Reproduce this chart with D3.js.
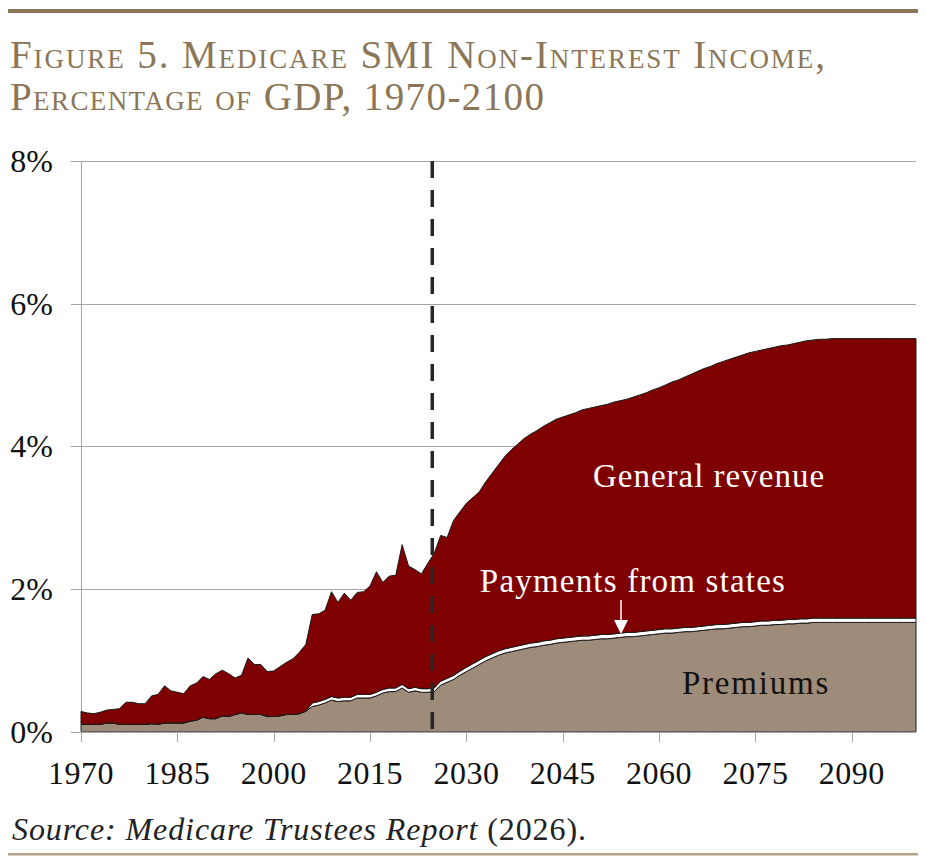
<!DOCTYPE html>
<html>
<head>
<meta charset="utf-8">
<script src="https://cdn.jsdelivr.net/npm/d3@7"></script>
<style>
  html, body { margin: 0; padding: 0; background: #fff; }
  svg { display: block; }
</style>
</head>
<body>
<svg id="chart" width="927" height="865"></svg>
<script>
// ---------------- DATA ----------------
const years = d3.range(1970, 2101);

// Premiums, % of GDP (1970-2100)
const premiums = [
  0.10,0.10,0.10,0.10,0.12,0.12,0.10,0.10,0.10,0.10, // 1970-1979
  0.10,0.11,0.10,0.12,0.12,0.12,0.12,0.145,0.16,0.20, // 1980-1989
  0.18,0.18,0.22,0.21,0.24,0.26,0.24,0.24,0.24,0.21, // 1990-1999
  0.21,0.22,0.24,0.24,0.25,0.285,0.35,0.37,0.40,0.44, // 2000-2009
  0.42,0.43,0.43,0.47,0.47,0.47,0.50,0.54,0.56,0.56, // 2010-2019
  0.61,0.55,0.57,0.55,0.55,0.56,0.65,0.69,0.73,0.79, // 2020-2029
  0.84,0.89,0.94,0.99,1.03,1.07,1.10,1.12,1.14,1.16, // 2030-2039
  1.18,1.19,1.21,1.22,1.24,1.25,1.26,1.27,1.28,1.28, // 2040-2049
  1.29,1.30,1.30,1.31,1.32,1.33,1.33,1.34,1.35,1.36, // 2050-2059
  1.37,1.38,1.38,1.39,1.40,1.40,1.41,1.42,1.43,1.44, // 2060-2069
  1.44,1.45,1.46,1.47,1.47,1.48,1.49,1.49,1.50,1.50, // 2070-2079
  1.51,1.51,1.52,1.52,1.53,1.53,1.53,1.53,1.53,1.53, // 2080-2089
  1.53,1.53,1.53,1.53,1.53,1.53,1.53,1.53,1.53,1.53, // 2090-2099
  1.53                                               // 2100
];

// Payments from states, % of GDP
const statePayments = [
  0,0,0,0,0,0,0,0,0,0,
  0,0,0,0,0,0,0,0,0,0,
  0,0,0,0,0,0,0,0,0,0,
  0,0,0,0,0,0,0.05,0.05,0.05,0.05,
  0.05,0.05,0.05,0.05,0.05,0.05,0.05,0.05,0.05,0.05,
  0.05,0.05,0.05,0.05,0.05,0.05,0.055,0.055,0.055,0.055,
  0.06,0.06,0.06,0.06,0.06,0.06,0.06,0.06,0.06,0.06,
  0.06,0.06,0.06,0.06,0.06,0.06,0.06,0.06,0.06,0.06,
  0.06,0.06,0.06,0.06,0.06,0.06,0.06,0.06,0.06,0.06,
  0.06,0.06,0.06,0.06,0.06,0.06,0.06,0.06,0.06,0.06,
  0.06,0.06,0.06,0.06,0.06,0.06,0.06,0.06,0.06,0.06,
  0.06,0.06,0.06,0.06,0.06,0.06,0.06,0.06,0.06,0.06,
  0.06,0.06,0.06,0.06,0.06,0.06,0.06,0.06,0.06,0.06,
  0.06
];

// Total non-interest income, % of GDP (top of the stack)
const totalIncome = [
  0.28,0.26,0.25,0.27,0.30,0.31,0.32,0.41,0.41,0.39, // 1970-1979
  0.39,0.50,0.52,0.64,0.57,0.55,0.53,0.64,0.68,0.77, // 1980-1989
  0.73,0.81,0.86,0.81,0.75,0.79,1.03,0.94,0.94,0.84, // 1990-1999
  0.85,0.91,0.97,1.02,1.11,1.22,1.64,1.65,1.70,1.96, // 2000-2009
  1.81,1.94,1.84,1.95,1.96,2.04,2.24,2.09,2.18,2.19, // 2010-2019
  2.62,2.32,2.27,2.21,2.36,2.50,2.75,2.72,2.96,3.08, // 2020-2029
  3.20,3.28,3.36,3.50,3.62,3.74,3.86,3.95,4.03,4.11, // 2030-2039
  4.17,4.22,4.28,4.33,4.38,4.41,4.44,4.47,4.51,4.53, // 2040-2049
  4.55,4.57,4.59,4.62,4.64,4.66,4.69,4.72,4.75,4.79, // 2050-2059
  4.82,4.86,4.90,4.93,4.97,5.01,5.05,5.09,5.12,5.16, // 2060-2069
  5.19,5.22,5.25,5.28,5.31,5.33,5.35,5.37,5.39,5.41, // 2070-2079
  5.42,5.44,5.46,5.48,5.49,5.50,5.50,5.51,5.51,5.51, // 2080-2089
  5.51,5.51,5.51,5.51,5.51,5.51,5.51,5.51,5.51,5.51, // 2090-2099
  5.51                                               // 2100
];

// General revenue = remainder of the stack
const generalRevenue = totalIncome.map((t, i) => +(t - premiums[i] - statePayments[i]).toFixed(3));

const seriesNames = ["Premiums", "Payments from states", "General revenue"];
const seriesColors = ["#9e8b7a", "#ffffff", "#7f0000"];
const xTickYears = [1970, 1985, 2000, 2015, 2030, 2045, 2060, 2075, 2090];
const yTickValues = [0, 2, 4, 6, 8];
const projectionYear = 2025;

// ---------------- CHART ----------------
const svg = d3.select("#chart");
const brown = "#8c7657";
const serif = "'Liberation Serif', 'Times New Roman', serif";

const x = d3.scaleLinear().domain([1970, 2100]).range([81, 916]);
const y = d3.scaleLinear().domain([0, 8]).range([731.5, 161]);

// top rule and bottom rule
svg.append("rect").attr("x", 8).attr("y", 9).attr("width", 910).attr("height", 4).attr("fill", brown);
svg.append("rect").attr("x", 8).attr("y", 853).attr("width", 910).attr("height", 2.5).attr("fill", "#b3a488");

// title
const title = svg.append("text")
  .attr("font-family", serif)
  .attr("font-size", 39)
  .attr("fill", brown)
  .style("font-variant", "small-caps")
  .style("letter-spacing", "1.9px");
title.append("tspan").attr("x", 10).attr("y", 68).text("Figure 5. Medicare SMI Non-Interest Income,");
title.append("tspan").attr("x", 10).attr("y", 110).style("letter-spacing", "1.4px").text("Percentage of GDP, 1970-2100");

// gridlines
const grid = svg.append("g");
yTickValues.forEach(v => {
  grid.append("line")
    .attr("x1", 71).attr("x2", 916)
    .attr("y1", Math.round(y(v)) + 0.5).attr("y2", Math.round(y(v)) + 0.5)
    .attr("stroke", "#a6a6a6").attr("stroke-width", 1);
});
grid.append("line").attr("x1", 81.5).attr("x2", 81.5).attr("y1", y(8)).attr("y2", 741)
  .attr("stroke", "#a6a6a6");

// stacked areas
const rows = years.map((yr, i) => ({
  year: yr,
  "Premiums": premiums[i],
  "Payments from states": statePayments[i],
  "General revenue": generalRevenue[i]
}));
const layers = d3.stack().keys(seriesNames)(rows);
const area = d3.area()
  .x(d => x(d.data.year))
  .y0(d => y(d[0]))
  .y1(d => y(d[1]));

svg.append("g").selectAll("path")
  .data(layers)
  .join("path")
  .attr("d", area)
  .attr("fill", (d, i) => seriesColors[i])
  .attr("stroke", "#1a1a1a")
  .attr("stroke-width", 1)
  .attr("stroke-linejoin", "round");

// x axis
const xAxisG = svg.append("g");
xAxisG.append("line").attr("x1", 81).attr("x2", 916).attr("y1", 732).attr("y2", 732).attr("stroke", "#a6a6a6");
xTickYears.forEach(yr => {
  xAxisG.append("line").attr("x1", Math.round(x(yr)) + 0.5).attr("x2", Math.round(x(yr)) + 0.5)
    .attr("y1", 732).attr("y2", 742).attr("stroke", "#a6a6a6");
  xAxisG.append("text")
    .attr("x", x(yr)).attr("y", 784)
    .attr("text-anchor", "middle")
    .attr("font-family", serif)
    .attr("font-size", 32).attr("fill", "#111")
    .style("letter-spacing", "0.5px")
    .text(yr);
});

// y labels
yTickValues.forEach(v => {
  svg.append("text")
    .attr("x", 53).attr("y", y(v) + 11)
    .attr("text-anchor", "end")
    .attr("font-family", serif)
    .attr("font-size", 32).attr("fill", "#111")
    .text(v + "%");
});

// dashed projection line
svg.append("line")
  .attr("x1", x(projectionYear) - 2).attr("x2", x(projectionYear) - 2)
  .attr("y1", y(8)).attr("y2", y(0))
  .attr("stroke", "#262626").attr("stroke-width", 3.5)
  .attr("stroke-dasharray", "17,12");

// labels
svg.append("text").attr("x", 709).attr("y", 487).attr("text-anchor", "middle")
  .attr("font-family", serif).attr("font-size", 33).attr("fill", "#fff")
  .style("letter-spacing", "1px")
  .text("General revenue");
svg.append("text").attr("x", 633).attr("y", 592).attr("text-anchor", "middle")
  .attr("font-family", serif).attr("font-size", 33).attr("fill", "#fff")
  .style("letter-spacing", "1.2px")
  .text("Payments from states");
svg.append("text").attr("x", 756).attr("y", 694).attr("text-anchor", "middle")
  .attr("font-family", serif).attr("font-size", 33).attr("fill", "#111")
  .style("letter-spacing", "1.8px")
  .text("Premiums");

// arrow
svg.append("line").attr("x1", 621).attr("x2", 621).attr("y1", 600).attr("y2", 622)
  .attr("stroke", "#fff").attr("stroke-width", 1.5);
svg.append("path").attr("d", "M614,620 L628,620 L621,634 Z").attr("fill", "#fff");

// source
const src = svg.append("text").attr("x", 12).attr("y", 840)
  .attr("font-family", serif).attr("font-size", 32).attr("fill", "#222")
  .style("letter-spacing", "0.9px");
src.append("tspan").attr("font-style", "italic").text("Source: Medicare Trustees Report");
src.append("tspan").text(" (2026).");
</script>
</body>
</html>
